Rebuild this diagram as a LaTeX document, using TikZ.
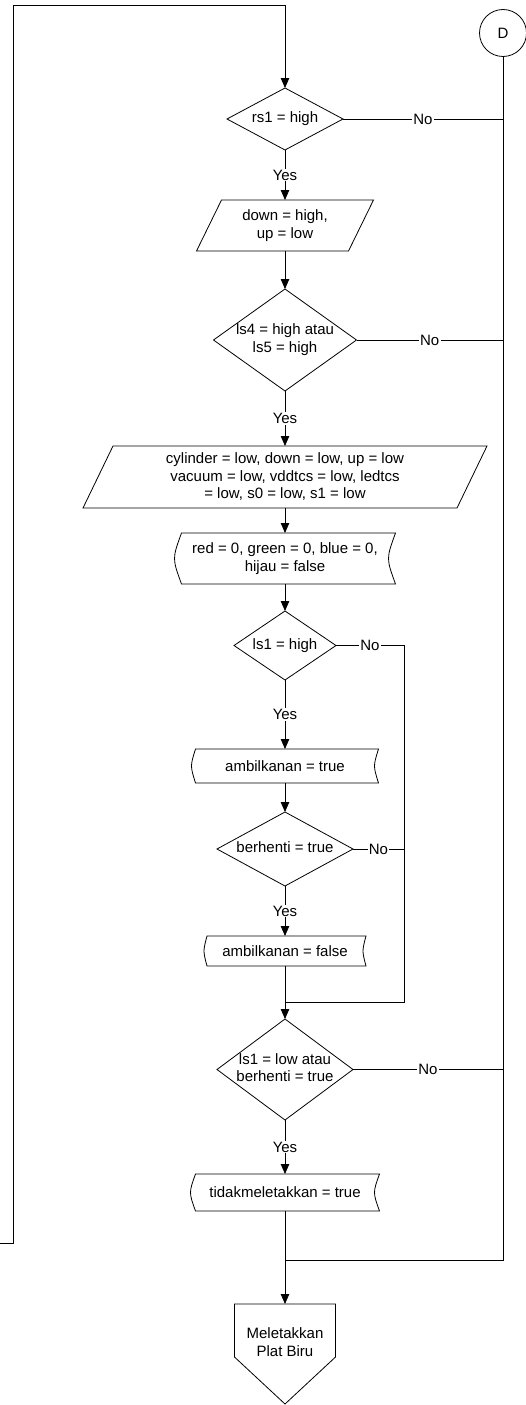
\documentclass[tikz,border=0pt]{standalone}
\usepackage{fontspec}
\setmainfont{Liberation Sans}
\usetikzlibrary{shapes.geometric,arrows.meta}

% text of a decision, kept out of the diamond's size computation
\newcommand\dtext[1]{\makebox[0pt]{\begin{tabular}{@{}c@{}}#1\end{tabular}}}
% slanted input/output box around a (borderless) rectangular node
\newcommand\paraoutline[2]{\draw[conn] ([xshift=#2/2]#1.north west) -- ([xshift=#2/2]#1.north east)
  -- ([xshift=-#2/2]#1.south east) -- ([xshift=-#2/2]#1.south west) -- cycle;}
% stored-data box: both short sides bowed to the left
\newcommand\storedoutline[2]{\draw[conn] ([xshift=#2]#1.north west) -- (#1.north east)
  .. controls ([xshift=-1.33*#2]#1.east) .. (#1.south east)
  -- ([xshift=#2]#1.south west)
  .. controls ([xshift=-0.33*#2]#1.west) .. ([xshift=#2]#1.north west) -- cycle;}

\begin{document}
\begin{tikzpicture}[x=1pt,y=-1pt,
  every node/.style={font=\fontsize{15pt}{17.5pt}\selectfont, inner sep=0pt, outer sep=0pt},
  conn/.style={draw=black, line width=0.8pt},
  arr/.style={conn, -{Triangle[length=10pt,width=8.5pt]}},
  decision/.style={shape=diamond, draw=black, line width=0.8pt},
  boxarea/.style={shape=rectangle, align=center},
  lbl/.style={fill=white, inner sep=1.2pt},
]
\useasboundingbox (0,0) rectangle (526,1405);

% connector symbol and the loop entering from the left
\node[circle, draw=black, line width=0.8pt, minimum size=47pt] (D) at (503,33) {D};
\coordinate (loopin) at (0,1243);
\coordinate (loopbot) at (13,1243);
\coordinate (looptop) at (13,5);

% main column
\node[decision, minimum width=116pt, minimum height=62pt] (rs1) at (285,119) {\dtext{rs1 = high}};
\node[boxarea, minimum width=152pt, minimum height=51pt] (dn) at (285,225.5) {down = high,\\up = low};
\paraoutline{dn}{25pt}
\node[decision, minimum width=143pt, minimum height=102pt] (ls45) at (285,340) {\dtext{ls4 = high atau\\ls5 = high}};
\node[boxarea, minimum width=374pt, minimum height=62pt] (cyl) at (285,477)
  {cylinder = low, down = low, up = low\\vacuum = low, vddtcs = low, ledtcs\\= low, s0 = low, s1 = low};
\paraoutline{cyl}{30pt}
\node[boxarea, minimum width=221pt, minimum height=51pt] (rgb) at (285,558.5) {red = 0, green = 0, blue = 0,\\hijau = false};
\storedoutline{rgb}{7pt}
\node[decision, minimum width=102pt, minimum height=69pt] (ls1) at (285,645.5) {\dtext{ls1 = high}};
\node[boxarea, minimum width=187pt, minimum height=34pt] (amT) at (285,766) {ambilkanan = true};
\storedoutline{amT}{4pt}
\node[decision, minimum width=136pt, minimum height=74pt] (brh) at (285,849) {\dtext{berhenti = true}};
\node[boxarea, minimum width=162pt, minimum height=30pt] (amF) at (285,951) {ambilkanan = false};
\storedoutline{amF}{3pt}
\node[decision, minimum width=136pt, minimum height=101pt] (ls1low) at (285,1069.5) {\dtext{ls1 = low atau\\berhenti = true}};
\node[boxarea, minimum width=189pt, minimum height=37pt] (tdk) at (285,1192.5) {tidakmeletakkan = true};
\storedoutline{tdk}{5pt}
\node[boxarea, minimum width=101pt, minimum height=76pt] (off) at (285,1342) {Meletakkan\\Plat Biru};
\draw[conn] (off.north west) -- (off.north east) -- ([yshift=-53pt]off.north east)
  -- ([yshift=-100pt]off.north) -- ([yshift=-53pt]off.north west) -- cycle;

% flow down the main column
\draw[arr] (loopin) -- (loopbot) -- (looptop) -| (rs1.north);
\draw[arr] (rs1.south) -- node[lbl]{Yes} (dn.north);
\draw[arr] (dn.south) -- (ls45.north);
\draw[arr] (ls45.south) -- node[lbl]{Yes} (cyl.north);
\draw[arr] (cyl.south) -- (rgb.north);
\draw[arr] (rgb.south) -- (ls1.north);
\draw[arr] (ls1.south) -- node[lbl]{Yes} (amT.north);
\draw[arr] (amT.south) -- (brh.north);
\draw[arr] (brh.south) -- node[lbl]{Yes} (amF.north);
\draw[arr] (amF.south) -- (ls1low.north);
\draw[arr] (ls1low.south) -- node[lbl]{Yes} (tdk.north);
\draw[arr] (tdk.south) -- (off.north);

% right-hand bus from D
\coordinate (busR) at (503,1260);
\coordinate (joinB) at (285,1260);
\draw[conn] (D.south) -- (busR) -- (joinB);
\draw[conn] (rs1.east) -- node[lbl]{No} (rs1.east -| busR);
\draw[conn] (ls45.east) -- node[lbl]{No} (ls45.east -| busR);
\draw[conn] (ls1low.east) -- node[lbl]{No} (ls1low.east -| busR);

% inner bus bypassing the ambilkanan steps
\coordinate (busI) at (404,1002);
\coordinate (joinA) at (285,1002);
\draw[conn] (ls1.east) -- node[lbl]{No} (ls1.east -| busI) -- (busI) -- (joinA);
\draw[conn] (brh.east) -- node[lbl]{No} (brh.east -| busI);
\end{tikzpicture}
\end{document}
